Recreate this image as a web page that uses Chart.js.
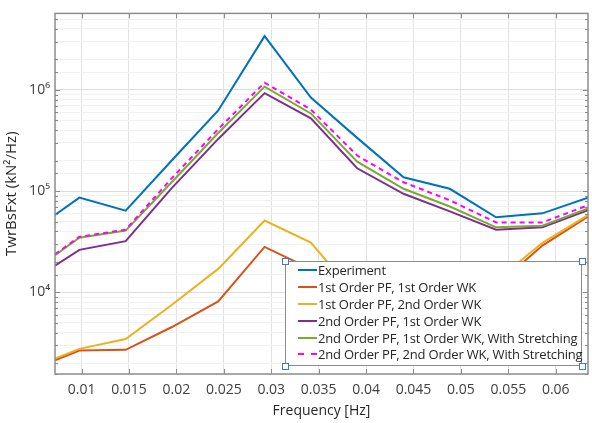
<!DOCTYPE html>
<html>
<head>
<meta charset="utf-8">
<script src="https://cdn.jsdelivr.net/npm/chart.js@4.4.1/dist/chart.umd.min.js"></script>
<style>
  body { margin: 0; background: #fff; }
  #wrap { position: relative; width: 592px; height: 423px; }
  #legend {
    position: absolute; left: 285px; top: 261px; width: 297px; height: 105px;
    border: 1px solid #8c8c8c; background: #fff; box-sizing: border-box;
    font-family: 'Open Sans', sans-serif; font-size: 13px; letter-spacing: -0.2px; color: #262626;
    padding-top: 0px;
  }
  .row { display: flex; align-items: center; height: 16.8px; white-space: nowrap; }
  .swatch { flex: 0 0 19px; width: 19px; margin-left: 12px; margin-right: 1px; height: 0; }
  .handle { position: absolute; width: 5px; height: 5px; border: 1px solid #3d7cc9; background: #fff; }
</style>
</head>
<body>
<div id="wrap">
  <canvas id="c" width="592" height="423"></canvas>
  <div id="legend"></div>
</div>
<script>
// frequencies [Hz]
const freq = [0.0072, 0.00977, 0.01465, 0.01953, 0.02441, 0.0293, 0.03418, 0.03906, 0.04395, 0.04883, 0.05371, 0.05859, 0.0634];

// PSD values (kN^2/Hz)
const experiment = [58100, 86300, 64100, 202000, 627000, 3400000, 842000, 336000, 137000, 105500, 55200, 60400, 86300];
const pf1wk1 = [2135, 2670, 2710, 4550, 8130, 28100, 17000, 7000, 3500, 3200, 11500, 29000, 56000];
const pf1wk2 = [2220, 2770, 3460, 7550, 17060, 51300, 31000, 9000, 4500, 4000, 13000, 30900, 58000];
const pf2wk1 = [18400, 26300, 32100, 107700, 328000, 929000, 524000, 168300, 94200, 63100, 41600, 43900, 65000];
const pf2wk1s = [23300, 34700, 40800, 123000, 375000, 1077000, 586000, 195500, 105500, 70600, 43900, 45500, 67500];
const pf2wk2s = [23800, 35400, 41600, 134700, 410000, 1180000, 640000, 225000, 122500, 81300, 49100, 49100, 72600];

const seriesLabels = [
  'Experiment',
  '1st Order PF, 1st Order WK',
  '1st Order PF, 2nd Order WK',
  '2nd Order PF, 1st Order WK',
  '2nd Order PF, 1st Order WK, With Stretching',
  '2nd Order PF, 2nd Order WK, With Stretching'
];
const seriesData = [experiment, pf1wk1, pf1wk2, pf2wk1, pf2wk1s, pf2wk2s];
const seriesColors = ['#0072BD', '#D95319', '#EDB120', '#7E2F8E', '#77AC30', '#FF00FF'];

const xTicks = [0.01, 0.015, 0.02, 0.025, 0.03, 0.035, 0.04, 0.045, 0.05, 0.055, 0.06];
const yMajor = [1e4, 1e5, 1e6];
const yTickLabels = ['10⁴', '10⁵', '10⁶'];

const AXIS_COLOR = '#8c8c8c';

// matlab style box with inward ticks
const boxPlugin = {
  id: 'box',
  afterDraw(chart) {
    const { ctx, chartArea: a, scales } = chart;
    ctx.save();
    ctx.strokeStyle = AXIS_COLOR;
    ctx.lineWidth = 1;
    ctx.beginPath();
    scales.x.ticks.forEach(t => {
      const px = Math.round(scales.x.getPixelForValue(t.value)) + 0.5;
      ctx.moveTo(px, a.bottom); ctx.lineTo(px, a.bottom - 5);
      ctx.moveTo(px, a.top); ctx.lineTo(px, a.top + 5);
    });
    scales.y.ticks.forEach(t => {
      const len = yMajor.includes(t.value) ? 5 : 3;
      const py = Math.round(scales.y.getPixelForValue(t.value)) + 0.5;
      ctx.moveTo(a.left, py); ctx.lineTo(a.left + len, py);
      ctx.moveTo(a.right, py); ctx.lineTo(a.right - len, py);
    });
    ctx.stroke();
    ctx.lineWidth = 1.5;
    ctx.strokeRect(a.left, a.top, a.right - a.left, a.bottom - a.top);
    ctx.restore();
  }
};

const chart = new Chart(document.getElementById('c'), {
  type: 'line',
  plugins: [boxPlugin],
  data: {
    datasets: seriesLabels.map((label, i) => ({
      label: label,
      data: freq.map((f, j) => ({ x: f, y: seriesData[i][j] })),
      borderColor: seriesColors[i],
      borderWidth: 2,
      borderDash: i === 5 ? [5, 4] : [],
      pointRadius: 0,
      fill: false,
      tension: 0,
      order: seriesLabels.length - i
    }))
  },
  options: {
    responsive: false,
    animation: false,
    layout: { padding: { left: 0, right: 4, top: 6, bottom: 0 } },
    plugins: { legend: { display: false }, tooltip: { enabled: false } },
    scales: {
      x: {
        type: 'linear',
        min: 0.0072,
        max: 0.0634,
        afterBuildTicks: (scale) => { scale.ticks = xTicks.map(v => ({ value: v })); },
        afterFit: (scale) => { scale.height = 49; },
        border: { display: false },
        grid: { color: '#e3e3e3', drawTicks: false },
        ticks: {
          autoSkip: false, maxRotation: 0, padding: 8,
          color: '#404040',
          font: { family: 'Open Sans', size: 14 },
          callback: (v) => String(+v.toFixed(4))
        },
        title: {
          display: true, text: 'Frequency [Hz]', color: '#262626',
          font: { family: 'Open Sans', size: 14 },
          padding: { top: 0, bottom: 4 }
        }
      },
      y: {
        type: 'logarithmic',
        min: 1563,
        max: 5.7e6,
        afterFit: (scale) => { scale.width = 55; },
        border: { display: false },
        grid: {
          drawTicks: false,
          color: (c) => (c.tick && yMajor.includes(c.tick.value)) ? '#dcdcdc' : '#f1f1f1'
        },
        ticks: {
          autoSkip: false, padding: 5,
          color: '#404040',
          font: { family: 'Open Sans', size: 14 },
          callback: (v) => {
            const k = yMajor.indexOf(v);
            return k >= 0 ? yTickLabels[k] : '';
          }
        },
        title: {
          display: true, text: 'TwrBsFxt (kN²/Hz)', color: '#262626',
          font: { family: 'Open Sans', size: 15 },
          padding: { top: 3, bottom: 0 }
        }
      }
    }
  }
});

// legend box drawn over the plot, built from the chart datasets
const legend = document.getElementById('legend');
chart.data.datasets.forEach(ds => {
  const row = document.createElement('div');
  row.className = 'row';
  const sw = document.createElement('span');
  sw.className = 'swatch';
  sw.style.borderTop = '2px ' + (ds.borderDash.length ? 'dashed ' : 'solid ') + ds.borderColor;
  const txt = document.createElement('span');
  txt.textContent = ds.label;
  row.appendChild(sw);
  row.appendChild(txt);
  legend.appendChild(row);
});
[[-4, -4], [293, -4], [-4, 101], [293, 101]].forEach(p => {
  const h = document.createElement('div');
  h.className = 'handle';
  h.style.left = p[0] + 'px';
  h.style.top = p[1] + 'px';
  legend.appendChild(h);
});
</script>
</body>
</html>
